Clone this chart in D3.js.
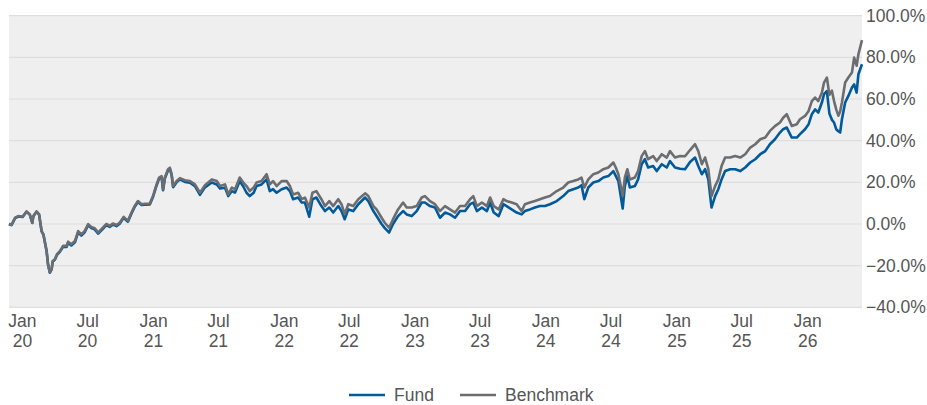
<!DOCTYPE html>
<html>
<head>
<meta charset="utf-8">
<script src="https://cdn.jsdelivr.net/npm/d3@7"></script>
<style>
  html, body { margin: 0; padding: 0; background: #ffffff; }
  svg { display: block; font-family: Arial, "Liberation Sans", Helvetica, sans-serif; }
</style>
</head>
<body>
<svg id="chart" width="927" height="405"></svg>
<script>
// ---------------- DATA ----------------
const dates = [
  "2019-11-26","2019-12-03","2019-12-13","2019-12-22","2020-01-03","2020-01-14","2020-01-23","2020-01-30",
  "2020-02-02","2020-02-11","2020-02-18","2020-02-25","2020-03-01","2020-03-10","2020-03-14","2020-03-19",
  "2020-03-24","2020-03-27","2020-04-02","2020-04-08","2020-04-16","2020-04-25","2020-05-05","2020-05-09",
  "2020-05-18","2020-05-28","2020-06-06","2020-06-15","2020-06-24","2020-07-04","2020-07-13","2020-07-22",
  "2020-08-01","2020-08-10","2020-08-24","2020-09-02","2020-09-11","2020-09-21","2020-09-30","2020-10-11",
  "2020-10-23","2020-11-02","2020-11-11","2020-11-20","2020-11-30","2020-12-09","2020-12-23","2021-01-01",
  "2021-01-11","2021-01-18","2021-01-25","2021-01-29","2021-02-03","2021-02-12","2021-02-17","2021-02-22",
  "2021-02-26","2021-03-08","2021-03-17","2021-03-31","2021-04-14","2021-04-28","2021-05-12","2021-05-26",
  "2021-06-14","2021-06-28","2021-07-07","2021-07-21","2021-07-30","2021-08-09","2021-08-18","2021-08-31",
  "2021-09-10","2021-09-19","2021-09-28","2021-10-09","2021-10-17","2021-10-31","2021-11-14","2021-11-23",
  "2021-12-02","2021-12-12","2021-12-26","2022-01-09","2022-01-18","2022-01-27","2022-02-10","2022-02-20",
  "2022-03-01","2022-03-13","2022-03-22","2022-04-02","2022-04-16","2022-04-26","2022-05-08","2022-05-19",
  "2022-06-02","2022-06-11","2022-06-20","2022-06-30","2022-07-14","2022-07-28","2022-08-16","2022-08-25",
  "2022-09-08","2022-09-17","2022-10-01","2022-10-10","2022-10-22","2022-11-02","2022-11-16","2022-11-30",
  "2022-12-10","2022-12-24","2023-01-07","2023-01-21","2023-01-30","2023-02-13","2023-02-27","2023-03-13",
  "2023-03-27","2023-04-10","2023-04-24","2023-05-08","2023-05-22","2023-06-05","2023-06-14","2023-06-24",
  "2023-07-08","2023-07-22","2023-07-31","2023-08-10","2023-08-24","2023-09-06","2023-09-15","2023-09-29",
  "2023-10-13","2023-10-27","2023-11-05","2023-11-19","2023-12-03","2023-12-17","2023-12-31","2024-01-14",
  "2024-02-02","2024-02-20","2024-03-05","2024-03-19","2024-04-02","2024-04-11","2024-04-19","2024-04-30",
  "2024-05-14","2024-05-28","2024-06-11","2024-06-25","2024-07-09","2024-07-16","2024-07-23","2024-08-04",
  "2024-08-10","2024-08-17","2024-08-24","2024-09-07","2024-09-16","2024-09-26","2024-10-05","2024-10-14",
  "2024-10-28","2024-11-07","2024-11-21","2024-12-05","2024-12-14","2024-12-28","2025-01-11","2025-01-25",
  "2025-02-08","2025-02-22","2025-03-03","2025-03-13","2025-03-22","2025-03-31","2025-04-09","2025-04-19",
  "2025-04-28","2025-05-07","2025-05-17","2025-05-31","2025-06-14","2025-06-28","2025-07-12","2025-07-26",
  "2025-08-09","2025-08-23","2025-09-06","2025-09-19","2025-10-03","2025-10-17","2025-10-26","2025-11-05",
  "2025-11-19","2025-12-03","2025-12-12","2025-12-26","2026-01-05","2026-01-14","2026-01-23","2026-02-01",
  "2026-02-11","2026-02-17","2026-02-25","2026-03-04","2026-03-11","2026-03-17","2026-03-23","2026-03-29",
  "2026-04-03","2026-04-08","2026-04-17","2026-04-26","2026-05-06","2026-05-12","2026-05-19","2026-05-24",
  "2026-06-03"
];

const benchmark = [
  0, -0.5, 3, 3.8, 3.5, 6, 4.6, 0.6,
  3.8, 6, 4.6, -3.4, -5, -13, -19.4, -23.3,
  -21.7, -17.8, -17, -14.5, -13, -10.5, -10.5, -8.5,
  -9.7, -8.2, -3.4, -5, -3.4, -0.1, -1.4, -2,
  -4.1, -2.5, 0, -0.9, 0.2, -0.5, 0.6, 3.4,
  1.5, 5.5, 8.7, 11, 9.5, 9.7, 9.8, 13.4,
  19, 22.3, 23, 16.7, 22.3, 26.3, 27, 23.9,
  18.2, 20.6, 22, 21, 20.6, 19, 15, 18.6,
  21.4, 20.6, 18.2, 19, 14.2, 17.5, 16.7, 22.3,
  19.9, 18.2, 15.8, 17.5, 19.9, 20.6, 23.9, 19,
  20.6, 18.2, 20.6, 20.6, 18.2, 14.2, 15, 11.9,
  12.7, 7.9, 15, 15.8, 11.9, 8.6, 11, 8.6,
  11.9, 9.5, 4.7, 9.5, 8.6, 11.9, 14.7, 13.4,
  8.6, 7, 3, 0.6, -1.8, 2.3, 7, 10.3,
  7.9, 7.9, 8.6, 12.7, 13.4, 11, 9.5, 6.2,
  8.6, 7, 5.5, 8.6, 8.6, 11.9, 13.4, 8.6,
  10.3, 8.6, 12.7, 8.6, 7, 11.9, 11, 10.3,
  9.5, 6.2, 9.5, 10.3, 11, 11.9, 12.7, 13.4,
  15.8, 17.5, 19.9, 20.6, 21.4, 22.3, 17.5, 21.4,
  23.9, 24.7, 26.3, 27.1, 29.5, 27, 23.9, 13.5,
  22.3, 26.3, 21.4, 22.3, 25.4, 32.6, 35, 31.1,
  32.6, 30.2, 33.5, 31.9, 35, 31.9, 32.6, 32.5,
  35.5, 38.3, 35, 28.7, 31.9, 26.3, 13.4, 18.2,
  21.4, 27.8, 31.9, 31.9, 32.6, 31.9, 33.5, 36.7,
  38.3, 40.7, 41.5, 44.7, 47, 48.7, 51, 52.7,
  47, 47.9, 50.3, 51.9, 54.3, 59, 60.7, 59,
  63, 67.9, 70.3, 62, 64, 59, 55, 52,
  54, 58.3, 67.9, 70.3, 72.7, 79.9, 76, 81.5,
  88.3
];

const fund = [
  0, -0.5, 2.8, 3.6, 3.4, 5.9, 4.5, 0.5,
  3.7, 5.9, 4.5, -3.5, -5.1, -13.1, -19.5, -23.4,
  -21.8, -18, -17.2, -14.8, -13.4, -11, -11, -9,
  -10.3, -8.8, -4, -5.6, -4, -0.6, -2, -2.6,
  -4.6, -3, -0.5, -1.4, -0.3, -1, 0.1, 3,
  1.1, 5.1, 8.3, 10.6, 9.1, 9.3, 9.4, 13,
  18.5, 21.8, 22.5, 16.2, 21.8, 25.8, 26.5, 23.4,
  17.7, 20.1, 21.4, 20.2, 19.8, 18.2, 14, 17.6,
  19.9, 19, 17, 17.4, 13.4, 15.8, 15.1, 20.6,
  18, 15, 13.4, 15, 18.2, 19, 21.4, 15.8,
  16.7, 15, 16.7, 17.5, 15.8, 11.9, 12.7, 10.3,
  10.3, 3.5, 11.9, 12.7, 8.6, 6.2, 7.9, 5.5,
  8.6, 6.2, 2.3, 7, 6.2, 9.5, 12.7, 11,
  6.2, 3.8, 0, -2, -4.1, 0, 3.8, 6.2,
  4.6, 3.8, 6.2, 10.3, 10.3, 8.6, 7.9, 3,
  5.5, 4.6, 3, 6.2, 6.2, 9.5, 10.3, 6.2,
  7.9, 6.2, 10.3, 5.5, 3.8, 9.5, 8.6, 7,
  5.5, 4.6, 6.2, 7, 7.9, 8.6, 8.6, 9.5,
  11, 13.4, 15.8, 16.7, 17.5, 18.6, 11.9, 17.5,
  19.9, 20.6, 22.3, 23, 25.4, 23, 20.6, 7.4,
  18.2, 23, 17.5, 18.2, 21.4, 28.7, 31.1, 27.1,
  27.8, 25.4, 28.7, 27.1, 30.2, 27.1, 26.5, 26.3,
  29.8, 31.9, 27.8, 23.9, 26.3, 21.4, 7.9, 13.4,
  16.7, 21.4, 25.4, 26.3, 26.3, 25.4, 27.1, 29.5,
  31.1, 33.5, 35, 38.3, 40.7, 43.9, 45.5, 46.3,
  41.5, 41.5, 43.1, 45.5, 47.9, 52.7, 55, 53.5,
  58.3, 62.3, 63.8, 53, 50, 48.7, 45.5, 44.5,
  43.9, 50.3, 58.3, 61.5, 65.5, 67, 63.1, 71.9,
  76.7
];

const yTicks = [-40, -20, 0, 20, 40, 60, 80, 100];
const monthLabels = ["Jan", "Jul"];
const seriesNames = ["Fund", "Benchmark"];
const seriesColors = ["#005a9c", "#6b6d70"];

// ---------------- CHART ----------------
const parse = d3.timeParse("%Y-%m-%d");
const pts = dates.map((d, i) => ({ date: parse(d), fund: fund[i], bench: benchmark[i] }));

const svg = d3.select("#chart");
const plot = { left: 9, right: 862, top: 15.7, bottom: 307.3 };
const FONT = "Arial, 'Liberation Sans', sans-serif";
const FS = 17.5;

const x = d3.scaleTime()
  .domain(d3.extent(pts, d => d.date))
  .range([plot.left, plot.right]);

const y = d3.scaleLinear()
  .domain([-40, 100])
  .range([plot.bottom, plot.top]);

// background
svg.append("rect")
  .attr("x", plot.left).attr("y", plot.top)
  .attr("width", plot.right - plot.left)
  .attr("height", plot.bottom - plot.top)
  .attr("fill", "#efefef");

// gridlines
svg.append("g").selectAll("line")
  .data(yTicks)
  .join("line")
  .attr("x1", plot.left).attr("x2", plot.right)
  .attr("y1", d => y(d)).attr("y2", d => y(d))
  .attr("stroke", "#dedede")
  .attr("stroke-width", 1.2);

// y axis (right)
const yAxis = d3.axisRight(y)
  .tickValues(yTicks)
  .tickSize(0)
  .tickPadding(4)
  .tickFormat(d => d3.format(".1f")(d) + "%");
const gy = svg.append("g")
  .attr("transform", `translate(${plot.right},0)`)
  .call(yAxis);
gy.select(".domain").remove();
gy.selectAll("text")
  .attr("fill", "#555555")
  .attr("font-size", FS)
  .attr("font-family", FONT);

// x axis
const startYear = 2020, endYear = 2026;
const xTicks = [];
for (let yr = startYear; yr <= endYear; yr++) {
  [0, 6].forEach(m => {
    const t = new Date(yr, m, 1);
    if (t >= x.domain()[0] && t <= x.domain()[1]) xTicks.push(t);
  });
}
const xAxis = d3.axisBottom(x)
  .tickValues(xTicks)
  .tickSize(0)
  .tickFormat("");
const gx = svg.append("g")
  .attr("transform", `translate(0,${plot.bottom})`)
  .call(xAxis);
gx.select(".domain").remove();
gx.selectAll(".tick").each(function(d) {
  const g = d3.select(this);
  const t = g.append("text")
    .attr("fill", "#555555")
    .attr("font-size", FS)
    .attr("font-family", FONT)
    .attr("text-anchor", "middle");
  t.append("tspan").attr("x", 0).attr("y", 20)
    .text(monthLabels[d.getMonth() === 0 ? 0 : 1]);
  t.append("tspan").attr("x", 0).attr("y", 40)
    .text(String(d.getFullYear()).slice(2));
});

// lines
const lineFund = d3.line().x(d => x(d.date)).y(d => y(d.fund));
const lineBench = d3.line().x(d => x(d.date)).y(d => y(d.bench));

svg.append("path")
  .datum(pts)
  .attr("d", lineFund)
  .attr("fill", "none")
  .attr("stroke", seriesColors[0])
  .attr("stroke-width", 2.6)
  .attr("stroke-linejoin", "round");

svg.append("path")
  .datum(pts)
  .attr("d", lineBench)
  .attr("fill", "none")
  .attr("stroke", seriesColors[1])
  .attr("stroke-width", 2.6)
  .attr("stroke-linejoin", "round");

// legend
const legend = svg.append("g").attr("transform", "translate(349,395)");
const legendX = [0, 111];
seriesNames.forEach((name, i) => {
  const g = legend.append("g").attr("transform", `translate(${legendX[i]},0)`);
  g.append("line")
    .attr("x1", 0).attr("x2", 36)
    .attr("y1", 0).attr("y2", 0)
    .attr("stroke", seriesColors[i])
    .attr("stroke-width", 2.5);
  g.append("text")
    .attr("x", 45).attr("y", 6.2)
    .attr("fill", "#555555")
    .attr("font-size", FS)
    .attr("font-family", FONT)
    .text(name);
});
</script>
</body>
</html>
